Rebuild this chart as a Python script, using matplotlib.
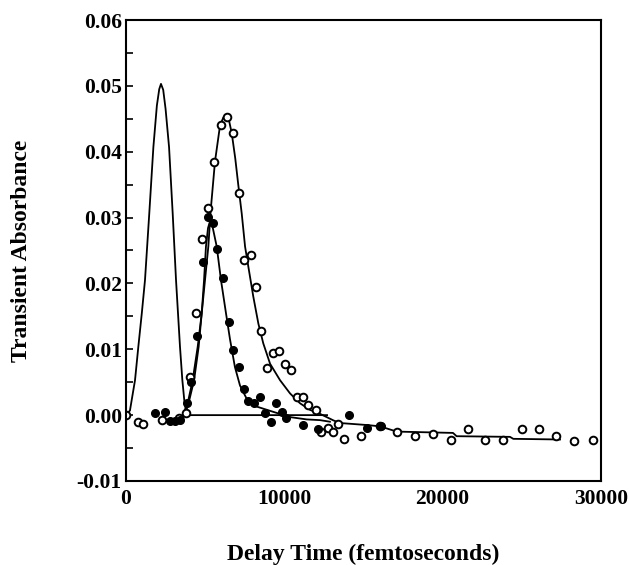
import numpy as np
import matplotlib
matplotlib.use("Agg")
from matplotlib import pyplot as plt
from matplotlib.ticker import MultipleLocator

plt.rcParams['font.family'] = ['Liberation Serif', 'DejaVu Serif']
plt.rcParams['font.weight'] = 'bold'

# puntos abiertos
open_t = [0, 780, 1095, 2250, 3370, 3770, 4040, 4420, 4820, 5160, 5580, 5980, 6360, 6740,
          7120, 7450, 7870, 8210, 8550, 8930, 9260, 9680, 10040, 10420, 10780, 11160,
          11520, 11980, 12300, 12740, 13050, 13370, 13770, 14860, 16040, 17100, 18230,
          19370, 20510, 21580, 22700, 23830, 24990, 26060, 27160, 28320, 29480]
open_a = [0.0, -0.0010, -0.0013, -0.0008, -0.0004, 0.0003, 0.0058, 0.0155, 0.0268, 0.0315,
          0.0385, 0.0441, 0.0452, 0.0428, 0.0338, 0.0235, 0.0243, 0.0195, 0.0127, 0.0072,
          0.0095, 0.0098, 0.0078, 0.0068, 0.0028, 0.0027, 0.0015, 0.0008, -0.0025, -0.0020,
          -0.0025, -0.0014, -0.0037, -0.0031, -0.0016, -0.0025, -0.0032, -0.0029, -0.0038,
          -0.0021, -0.0038, -0.0038, -0.0021, -0.0021, -0.0032, -0.0040, -0.0038]

# puntos llenos
fill_t = [1830, 2460, 2780, 3095, 3410, 3830, 4080, 4500, 4890, 5200, 5520, 5770, 6150,
          6530, 6780, 7160, 7450, 7730, 8080, 8460, 8780, 9140, 9450, 9830, 10100, 11160,
          12150, 14110, 15200, 16110]
fill_a = [0.0003, 0.0004, -0.0009, -0.0009, -0.0008, 0.0019, 0.0051, 0.0120, 0.0232, 0.0301,
          0.0292, 0.0253, 0.0208, 0.0142, 0.0099, 0.0073, 0.0039, 0.0022, 0.0018, 0.0027,
          0.0003, -0.0010, 0.0019, 0.0004, -0.0005, -0.0015, -0.0021, 0.0000, -0.0019, -0.0016]

# pulso (curva gaussiana)
pulse_t = [0, 250, 570, 780, 1000, 1200, 1470, 1730, 1950, 2100, 2210, 2350, 2500, 2720,
           2950, 3160, 3410, 3560, 3680, 3830, 4200, 12700]
pulse_a = [0.0, 0.0007, 0.0053, 0.0104, 0.0155, 0.0205, 0.0306, 0.0407, 0.0470, 0.0495,
           0.0503, 0.0494, 0.0465, 0.0407, 0.0306, 0.0205, 0.0104, 0.0053, 0.0023, 0.0,
           0.0, 0.0]

# ajuste de los puntos abiertos
fit_open_t = [3620, 3940, 4210, 4530, 4780, 4990, 5200, 5350, 5620, 5940, 6150, 6360, 6520,
              6680, 6900, 7090, 7310, 7520, 7730, 8040, 8360, 8670, 9100, 9730, 10360, 10990,
              11620, 12250, 13100, 13520, 15200, 16040, 17100, 20650, 20880, 24250, 24460,
              27410]
fit_open_a = [0.0, 0.0023, 0.0053, 0.0104, 0.0154, 0.0205, 0.0256, 0.0311, 0.0385, 0.0440,
              0.0452, 0.0454, 0.0446, 0.0428, 0.0390, 0.0350, 0.0306, 0.0256, 0.0225, 0.0180,
              0.0139, 0.0109, 0.0078, 0.0053, 0.0033, 0.0018, 0.0008, 0.0002, -0.0008,
              -0.0012, -0.0015, -0.0017, -0.0025, -0.0027, -0.0032, -0.0033, -0.0036, -0.0037]

# ajuste de los puntos llenos
fit_fill_t = [3730, 4000, 4300, 4590, 4780, 4930, 5050, 5180, 5300, 5450, 5730, 6000, 6320,
              6570, 6880, 7200, 7620, 8250, 9300, 10360, 11410, 12250, 12880]
fit_fill_a = [0.0, 0.0023, 0.0053, 0.0104, 0.0154, 0.0205, 0.0256, 0.0284, 0.0294, 0.0288,
              0.0256, 0.0205, 0.0154, 0.0115, 0.0073, 0.0045, 0.0025, 0.0013, 0.0005, -0.0003,
              -0.00065, -0.00076, -0.0010]

fig = plt.figure(figsize=(6.29, 5.65), dpi=100)
ax = fig.add_axes([0.2003, 0.1487, 0.7552, 0.8159])

ax.plot(pulse_t, pulse_a, 'k-', lw=1.3)
ax.plot(fit_open_t, fit_open_a, 'k-', lw=1.3)
ax.plot(fit_fill_t, fit_fill_a, 'k-', lw=1.3)
ax.plot(open_t, open_a, 'o', ms=5.5, mfc='white', mec='black', mew=1.4, ls='none')
ax.plot(fill_t, fill_a, 'o', ms=5.5, mfc='black', mec='black', ls='none')

ax.set_xlim(0, 30000)
ax.set_ylim(-0.01, 0.06)
ax.set_xticks([0, 10000, 20000, 30000])
ax.set_yticks(np.arange(-0.01, 0.0601, 0.01))
ax.set_yticklabels(['-0.01', '0.00', '0.01', '0.02', '0.03', '0.04', '0.05', '0.06'])
ax.yaxis.set_minor_locator(MultipleLocator(0.005))
ax.tick_params(axis='y', which='both', direction='in', length=5, width=1.2, labelsize=15.5, pad=3)
ax.tick_params(axis='x', length=0, labelsize=15.5, pad=6)
for s in ax.spines.values():
    s.set_linewidth(1.5)

ax.set_xlabel('Delay Time (femtoseconds)', fontsize=17, fontweight='bold', labelpad=25)
ax.set_ylabel('Transient Absorbance', fontsize=17, fontweight='bold', labelpad=32)

plt.savefig('out.png', dpi=100)
